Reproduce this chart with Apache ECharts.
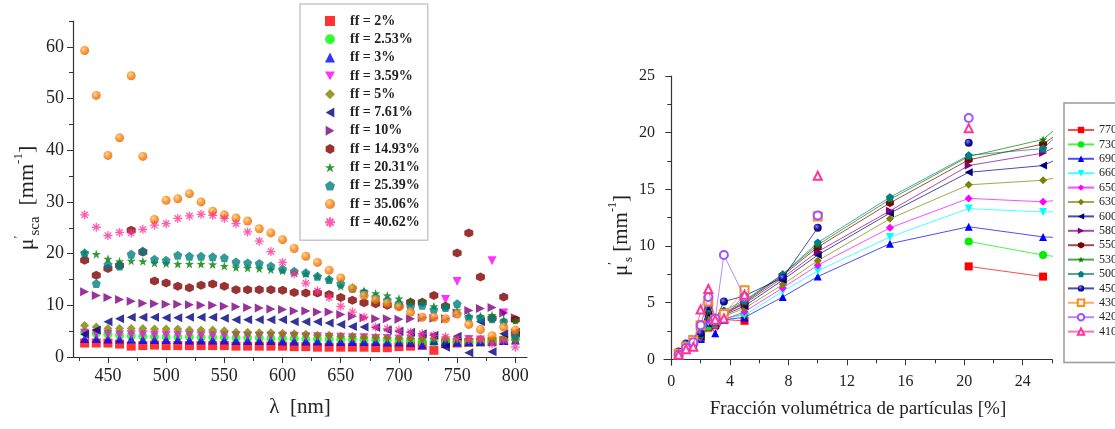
<!DOCTYPE html>
<html><head><meta charset="utf-8">
<script src="https://cdn.jsdelivr.net/npm/echarts@6/dist/echarts.min.js"></script>
<style>html,body{margin:0;padding:0;background:#fff}#c{width:1115px;height:429px}</style>
</head><body><div id="c"></div>
<script>
// ---------- LEFT PANEL DATA ----------
const wavelengths = [430,440,450,460,470,480,490,500,510,520,530,540,550,560,570,580,590,600,610,620,630,640,650,660,670,680,690,700,710,720,730,740,750,760,770,780,790,800];
const ff_2    = [2.7,2.7,2.7,2.5,2.1,2.2,2.3,2.2,2.2,2.2, 2.2,2.2,2.2,2.1,2.1,2.1,2.1,2.1,2.0,2.0, 1.9,1.9,1.9,1.9,1.9,1.8,1.8,2.0,2.1,2.3, 1.3,2.6,2.7,2.8,2.9,3.0,3.2,4.6];
const ff_253  = [4.8,4.6,4.4,4.2,4.1,4.0,3.9,3.9,3.9,3.9, 3.8,3.8,3.8,3.7,3.7,3.7,3.6,3.6,3.6,3.5, 3.5,3.4,3.4,3.4,3.3,3.3,3.2,3.2,3.2,3.1, 2.9,3.0,3.0,2.9,2.9,3.0,3.3,3.5];
const ff_3    = [3.6,3.6,3.5,3.5,3.5,3.4,3.4,3.4,3.4,3.3, 3.3,3.3,3.3,3.2,3.2,3.2,3.2,3.1,3.1,3.1, 3.1,3.0,3.0,3.0,3.0,3.0,2.9,2.9,2.8,2.3, 3.2,3.0,2.9,3.0,3.0,3.1,3.2,3.3];
const ff_359  = [4.6,4.5,4.4,4.3,4.3,4.3,4.2,4.2,4.2,4.2, 4.1,4.1,4.1,4.1,4.0,4.0,4.0,4.0,4.0,3.9, 3.9,3.8,3.8,3.7,3.7,3.6,3.6,3.5,3.5,3.4, 3.8,11.1,14.6,3.4,3.3,18.6,8.5,3.6];
const ff_5    = [6.1,5.8,5.5,5.5,5.5,5.5,5.4,5.4,5.4,5.2, 5.2,5.2,5.1,4.8,4.8,4.7,4.7,4.6,4.5,4.4, 4.2,4.2,4.0,4.0,3.8,3.8,3.7,3.6,3.6,3.6, 3.6,3.6,3.6,3.5,3.5,3.5,3.6,3.4];
const ff_761  = [4.4,5.2,6.8,7.4,7.7,7.7,7.7,7.6,7.6,7.7, 7.7,7.7,7.5,7.2,7.2,7.2,7.2,7.2,6.8,6.8, 6.8,6.6,6.3,5.9,5.8,5.7,5.2,5.0,4.8,4.5, 4.2,1.9,4.0,0.8,6.8,1.0,4.5,4.8];
const ff_10   = [12.6,11.9,11.5,11.1,10.8,10.4,10.3,10.2,10.2,10.1, 10.0,10.0,9.8,9.7,9.6,9.5,9.3,9.2,8.9,8.9, 8.7,8.7,8.2,7.9,7.6,7.4,7.4,7.3,7.4,7.6, 7.5,7.4,8.5,9.0,9.4,9.6,8.5,7.6];
const ff_1493 = [18.7,15.8,17.1,17.7,24.5,20.3,14.7,14.3,13.7,13.4, 13.9,14.1,13.7,13.0,13.0,13.0,13.0,12.9,12.5,12.4, 12.4,12.1,11.5,11.0,10.5,10.3,10.0,9.8,10.6,10.6, 11.9,9.8,20.1,24.0,15.5,7.5,11.6,7.2];
const ff_2031 = [20.2,19.9,19.0,18.5,18.6,18.5,18.2,18.1,18.0,18.0, 18.0,17.9,17.6,17.3,17.2,17.1,16.9,16.7,16.3,16.1, 15.6,15.0,13.7,13.5,12.8,12.3,11.9,11.3,10.8,10.7, 9.8,9.8,9.0,7.9,7.9,8.1,7.2,7.1];
const ff_2539 = [20.1,14.2,17.9,17.6,19.9,20.5,18.9,18.7,19.7,19.5, 19.5,19.4,19.2,18.4,18.2,18.1,17.6,17.0,16.6,16.3, 15.6,15.0,14.2,13.3,12.5,11.6,11.0,10.4,9.7,10.0, 9.2,9.6,10.3,7.7,7.6,7.4,6.8,4.2];
const ff_3506 = [59.3,50.6,39.0,42.4,54.4,38.8,26.6,30.3,30.6,31.6, 30.0,28.2,27.5,26.9,26.3,24.8,24.0,22.7,21.0,19.5, 18.3,16.8,15.3,13.3,11.9,11.1,10.4,9.7,8.7,7.7, 7.7,7.4,8.3,6.3,5.3,4.1,5.8,5.2];
const ff_4062 = [27.5,25.1,23.5,24.1,24.0,24.7,25.5,25.8,26.8,27.3, 27.6,27.4,26.8,25.8,24.2,22.4,20.4,18.3,16.1,14.3, 12.8,11.5,9.8,8.7,7.7,5.8,5.5,5.2,4.8,4.5, 4.2,3.9,3.6,3.4,3.4,2.5,3.2,1.9];
const ffLabels = ['ff = 2%','ff = 2.53%','ff = 3%','ff = 3.59%','ff = 5%','ff = 7.61%','ff = 10%','ff = 14.93%','ff = 20.31%','ff = 25.39%','ff = 35.06%','ff = 40.62%'];
const leftXTicks = [450,500,550,600,650,700,750,800];
const leftYTicks = [0,10,20,30,40,50,60];

// ---------- RIGHT PANEL DATA ----------
const fractions = [0.5,1,1.5,2,2.53,3,3.59,5,7.61,10,14.93,20.31,25.39,35.06];
const w770 = [0.5,1.0,1.4,1.8,2.8,3.0,3.5,3.4,null,null,null,8.2,7.3,null];
const w730 = [0.5,1.0,1.4,1.9,2.9,3.1,3.6,4.0,null,null,null,10.4,9.2,7.7];
const w690 = [0.5,1.0,1.3,1.8,3.2,2.3,3.5,3.7,5.5,7.3,10.2,11.7,10.8,10.4];
const w660 = [0.5,1.0,1.4,1.9,3.3,3.0,3.6,3.9,6.0,7.8,10.8,13.3,13.0,13.3];
const w650 = [0.4,1.0,1.5,1.9,3.5,3.0,3.5,4.2,6.3,8.3,11.6,14.2,13.9,15.3];
const w630 = [0.5,1.1,1.5,2.0,3.8,3.1,3.8,4.5,6.6,8.7,12.4,15.4,15.8,18.3];
const w600 = [0.5,1.1,1.5,2.0,4.0,3.2,3.9,4.7,7.0,9.2,12.9,16.5,17.1,22.7];
const w580 = [0.5,1.1,1.6,2.1,4.2,3.2,4.0,4.9,7.2,9.5,13.1,17.1,18.2,24.8];
const w550 = [0.5,1.1,1.6,2.1,4.3,3.3,4.0,5.0,7.4,9.9,13.8,17.6,19.0,27.5];
const w530 = [0.5,1.1,1.6,2.1,4.4,3.3,4.1,5.1,7.5,10.1,14.1,17.9,19.4,30.0];
const w500 = [0.5,1.1,1.6,2.2,4.5,3.3,4.3,5.2,7.5,10.3,14.3,18.0,18.6,30.3];
const w450 = [0.7,1.4,1.7,2.3,4.7,3.4,5.1,5.6,7.2,11.6,null,19.1,null,null];
const w430 = [0.5,1.1,1.7,3.0,5.1,3.5,4.0,6.1,null,12.6,null,null,null,null];
const w420 = [0.4,1.0,1.5,3.0,5.5,3.6,9.2,5.5,null,12.7,null,21.3,null,null];
const w410 = [0.4,0.9,1.1,4.4,6.2,3.5,3.6,5.7,null,16.2,null,20.4,null,null];
const wlLabels = ['770','730','690','660','650','630','600','580','550','530','500','450','430','420','410'];
const rightXTicks = [0,4,8,12,16,20,24];
const rightYTicks = [0,5,10,15,20,25];

// ---------- STYLE ----------
const SERIF = '"Liberation Serif","DejaVu Serif",serif';
const HEX = 'path://M0,-10L8.66,-5L8.66,5L0,10L-8.66,5L-8.66,-5Z';
const STAR = 'path://M0,-10L2.35,-3.24L9.51,-3.09L3.8,1.24L5.88,8.09L0,4L-5.88,8.09L-3.8,1.24L-9.51,-3.09L-2.35,-3.24Z';
const PENT = 'path://M0,-10L9.51,-3.09L5.88,8.09L-5.88,8.09L-9.51,-3.09Z';
const AST = 'path://M0,-10L0,10M-10,0L10,0M-7,-7L7,7M-7,7L7,-7';
const TRI_DOWN = 'path://M-10,-8.66L10,-8.66L0,8.66Z';
const TRI_LEFT = 'path://M8.66,-10L8.66,10L-8.66,0Z';
const TRI_RIGHT = 'path://M-8.66,-10L-8.66,10L8.66,0Z';
function sphere(c0, c1, c2){ return {type:'radial',x:0.38,y:0.35,r:0.7,colorStops:[{offset:0,color:c0},{offset:0.45,color:c1},{offset:1,color:c2}]}; }

const leftStyles = [
  {symbol:'rect', color:'#ff0000'},
  {symbol:'circle', color:'#00ff00'},
  {symbol:'triangle', color:'#0000ff'},
  {symbol:TRI_DOWN, color:'#ff00ff'},
  {symbol:'diamond', color:'#808000'},
  {symbol:TRI_LEFT, color:'#000080'},
  {symbol:TRI_RIGHT, color:'#800080'},
  {symbol:HEX, color:'#800000'},
  {symbol:STAR, color:'#008000'},
  {symbol:PENT, color:'#008080'},
  {symbol:'circle', color:sphere('#ffd090','#ff8a10','#dd5f00')},
  {symbol:AST, color:'#ff3399', stroke:true}
];
const leftValues = [ff_2,ff_253,ff_3,ff_359,ff_5,ff_761,ff_10,ff_1493,ff_2031,ff_2539,ff_3506,ff_4062];

const rightStyles = [
  {symbol:'rect', color:'#ff0000'},
  {symbol:'circle', color:'#00ee00'},
  {symbol:'triangle', color:'#0000ff'},
  {symbol:TRI_DOWN, color:'#00ffff'},
  {symbol:'diamond', color:'#ff00ff'},
  {symbol:'diamond', color:'#808000'},
  {symbol:TRI_LEFT, color:'#000080'},
  {symbol:TRI_RIGHT, color:'#800080'},
  {symbol:HEX, color:'#800000'},
  {symbol:STAR, color:'#008000'},
  {symbol:PENT, color:'#008080'},
  {symbol:'circle', color:sphere('#8c8cff','#1a1aa8','#000060'), plain:'#000080'},
  {symbol:'emptyRect', color:'#ff8c1a'},
  {symbol:'emptyCircle', color:'#9955ff'},
  {symbol:'emptyTriangle', color:'#ff3399'}
];
const rightValues = [w770,w730,w690,w660,w650,w630,w600,w580,w550,w530,w500,w450,w430,w420,w410];

const series = [];
leftValues.forEach((vals, i) => {
  const st = leftStyles[i];
  series.push({
    name: ffLabels[i], type:'scatter', xAxisIndex:0, yAxisIndex:0,
    data: wavelengths.map((w,k) => [w, vals[k]]),
    symbol: st.symbol, symbolSize: 9,
    itemStyle: st.stroke ? {color:st.color, borderColor:st.color, borderWidth:1.3} : {color:st.color},
    z: 2 + i
  });
});
rightValues.forEach((vals, i) => {
  const st = rightStyles[i];
  const lc = st.plain || st.color;
  series.push({
    name: wlLabels[i], type:'line', xAxisIndex:2, yAxisIndex:2,
    data: fractions.map((f,k) => [f, vals[k]]),
    connectNulls:false, clip:true,
    symbol: st.symbol, symbolSize: 8, showAllSymbol:true,
    lineStyle:{color:lc, width:1, opacity:0.7},
    itemStyle: st.symbol.indexOf('empty')===0 ? {color:st.color, borderColor:st.color, borderWidth:1} : {color:st.color},
    emphasis:{disabled:true},
    z: 2 + i
  });
});

function tickVals(a, b, step){ const r=[]; for(let v=a; v<=b+1e-9; v+=step) r.push(+v.toFixed(3)); return r; }

const axisCommon = {
  axisLine:{show:true, lineStyle:{color:'#333', width:1.2}},
  splitLine:{show:false}
};
const labelStyle = (sz) => ({color:'#222', fontFamily:SERIF, fontSize:sz});

const option = {
  animation:false,
  backgroundColor:'#fff',
  grid:[
    {left:73, top:21, width:454, height:336},
    {left:664, top:76, width:388, height:289}
  ],
  xAxis:[
    Object.assign({}, axisCommon, {type:'value', gridIndex:0, position:'bottom', min:420, max:810,
      axisTick:{show:true, inside:false, length:6, customValues:leftXTicks, lineStyle:{color:'#333'}},
      axisLabel:Object.assign(labelStyle(18), {customValues:leftXTicks, margin:10}),
      name:'λ  [nm]', nameLocation:'middle', nameGap:40,
      nameTextStyle:{fontFamily:SERIF, fontSize:21, color:'#222'}}),
    {type:'value', gridIndex:0, position:'bottom', min:420, max:810, axisLine:{show:false}, splitLine:{show:false},
      axisTick:{show:true, length:4, customValues:tickVals(425,775,50), lineStyle:{color:'#333'}},
      axisLabel:{show:false}},
    Object.assign({}, axisCommon, {type:'value', gridIndex:1, position:'bottom', min:-0.5, max:26,
      axisTick:{show:true, length:6, customValues:rightXTicks, lineStyle:{color:'#333'}},
      axisLabel:Object.assign(labelStyle(16), {customValues:rightXTicks, margin:9}),
      name:'Fracción volumétrica de partículas [%]', nameLocation:'middle', nameGap:35,
      nameTextStyle:{fontFamily:SERIF, fontSize:19, color:'#222'}}),
    {type:'value', gridIndex:1, position:'bottom', min:-0.5, max:26, axisLine:{show:false}, splitLine:{show:false},
      axisTick:{show:true, length:4, customValues:tickVals(2,26,4), lineStyle:{color:'#333'}},
      axisLabel:{show:false}}
  ],
  yAxis:[
    Object.assign({}, axisCommon, {type:'value', gridIndex:0, position:'left', min:0, max:65,
      axisTick:{show:true, length:6, customValues:leftYTicks, lineStyle:{color:'#333'}},
      axisLabel:Object.assign(labelStyle(18), {customValues:leftYTicks, margin:9}),
      name:'{a|μ}{p|\u2032}{s|sca}{a|  [mm}{p|-1}{a|]}', nameLocation:'middle', nameGap:26, nameRotate:90,
      nameTextStyle:{fontFamily:SERIF, color:'#222', padding:[0,18,0,0], rich:{
        a:{fontFamily:SERIF, fontSize:22, color:'#222', lineHeight:30, verticalAlign:'middle'},
        p:{fontFamily:SERIF, fontSize:13, color:'#222', lineHeight:13, verticalAlign:'top'},
        s:{fontFamily:SERIF, fontSize:15, color:'#222', lineHeight:15, verticalAlign:'bottom'}
      }}}),
    {type:'value', gridIndex:0, position:'left', min:0, max:65, axisLine:{show:false}, splitLine:{show:false},
      axisTick:{show:true, length:4, customValues:tickVals(5,65,10), lineStyle:{color:'#333'}},
      axisLabel:{show:false}},
    Object.assign({}, axisCommon, {type:'value', gridIndex:1, position:'left', min:-0.5, max:25,
      axisTick:{show:true, length:6, customValues:rightYTicks, lineStyle:{color:'#333'}},
      axisLabel:Object.assign(labelStyle(16), {customValues:rightYTicks, margin:9}),
      name:'{a|μ}{p|\u2032}{s|s}{a| [mm}{p|-1}{a|]}', nameLocation:'middle', nameGap:26, nameRotate:90,
      nameTextStyle:{fontFamily:SERIF, color:'#222', padding:[0,30,0,0], rich:{
        a:{fontFamily:SERIF, fontSize:21, color:'#222', lineHeight:28, verticalAlign:'middle'},
        p:{fontFamily:SERIF, fontSize:12, color:'#222', lineHeight:12, verticalAlign:'top'},
        s:{fontFamily:SERIF, fontSize:13, color:'#222', lineHeight:13, verticalAlign:'bottom'}
      }}}),
    {type:'value', gridIndex:1, position:'left', min:-0.5, max:25, axisLine:{show:false}, splitLine:{show:false},
      axisTick:{show:true, length:4, customValues:tickVals(2.5,22.5,5), lineStyle:{color:'#333'}},
      axisLabel:{show:false}}
  ],
  legend:[
    {data:ffLabels, orient:'vertical', left:300, top:4, itemWidth:10, itemHeight:10, itemGap:2.3,
      padding:[9,8,10,24], borderColor:'#c8c8c8', borderWidth:1.5, backgroundColor:'#fff',
      textStyle:{fontFamily:SERIF, fontSize:14, fontWeight:'bold', color:'#222', lineHeight:16, padding:[0,0,0,10]},
      selectedMode:false},
    {data:wlLabels, orient:'vertical', left:1064, top:103, itemWidth:26, itemHeight:8, itemGap:2.4,
      padding:[21,30,25,3], borderColor:'#999', borderWidth:1.5, backgroundColor:'#fff',
      textStyle:{fontFamily:SERIF, fontSize:12, color:'#222', lineHeight:12},
      selectedMode:false}
  ],
  series: series
};
const chart = echarts.init(document.getElementById('c'), null, {renderer:'canvas'});
chart.setOption(option);
</script></body></html>
